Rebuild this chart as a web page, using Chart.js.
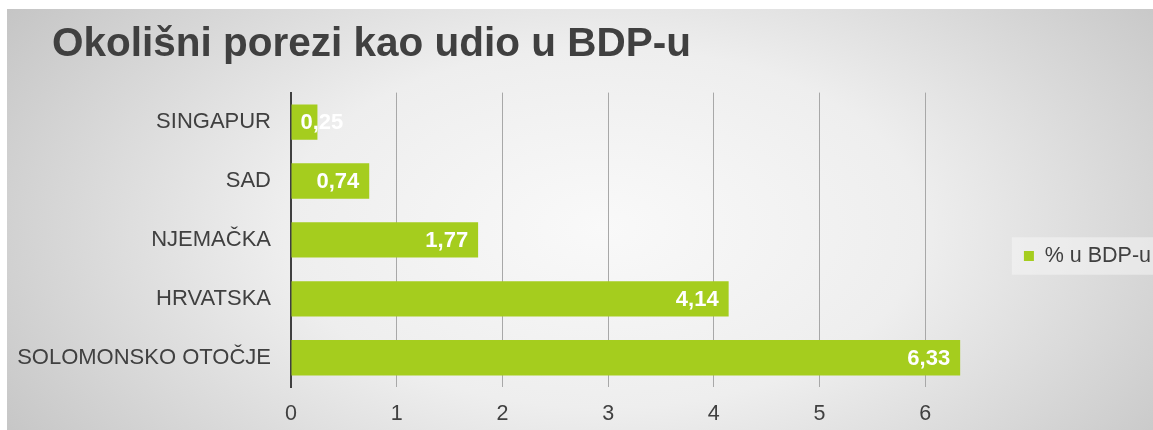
<!DOCTYPE html>
<html>
<head>
<meta charset="utf-8">
<script src="https://cdn.jsdelivr.net/npm/chart.js@4/dist/chart.umd.min.js"></script>
<style>
  html, body { margin: 0; padding: 0; background: #fff; }
  #wrap {
    position: absolute; left: 7px; top: 9px; width: 1146px; height: 421px;
    background: radial-gradient(ellipse 62% 95% at 52% 52%, #f9f9f9 0%, #eeeeee 45%, #c5c5c5 100%);
  }
</style>
</head>
<body>
<div id="wrap"><canvas id="chart" width="1146" height="421"></canvas></div>
<script>
const categories = ["SINGAPUR", "SAD", "NJEMAČKA", "HRVATSKA", "SOLOMONSKO OTOČJE"];
const values = [0.25, 0.74, 1.77, 4.14, 6.33];
const seriesName = "% u BDP-u";
const xTicks = [0, 1, 2, 3, 4, 5, 6];

const green = "#a5cd1e";
const textColor = "#404040";
const font = "'Liberation Sans', Arial, sans-serif";

// move the title right without moving the axis labels, nudge the legend right
const layoutShift = {
    id: "layoutShift",
    afterLayout(chart) {
        if (chart.titleBlock) chart.titleBlock.left = 45;
        const lg = chart.legend;
        if (lg) {
            lg.left += 8;
            lg.right += 8;
            (lg.legendHitBoxes || []).forEach(h => { h.left += 8; });
        }
    }
};

// legend backdrop (light box behind the legend item)
const legendBox = {
    id: "legendBox",
    beforeDraw(chart) {
        const hb = chart.legend && chart.legend.legendHitBoxes && chart.legend.legendHitBoxes[0];
        if (!hb) return;
        const ctx = chart.ctx;
        const x0 = hb.left - 20;
        ctx.save();
        ctx.fillStyle = "rgba(245,245,245,0.55)";
        ctx.fillRect(x0, hb.top - 8, chart.width - x0, hb.height + 16);
        ctx.restore();
    }
};

// value labels, white, inside the bar end
const valueLabels = {
    id: "valueLabels",
    afterDatasetsDraw(chart) {
        const ctx = chart.ctx;
        const meta = chart.getDatasetMeta(0);
        ctx.save();
        ctx.font = "bold 22px " + font;
        ctx.fillStyle = "#ffffff";
        ctx.textBaseline = "middle";
        meta.data.forEach((bar, i) => {
            const txt = values[i].toFixed(2).replace(".", ",");
            const w = ctx.measureText(txt).width;
            let x = bar.x - 10 - w;
            if (x < bar.base + 9) x = bar.base + 9;
            ctx.fillText(txt, x, bar.y + 1);
        });
        ctx.restore();
    }
};

new Chart(document.getElementById("chart"), {
    type: "bar",
    data: {
        labels: categories,
        datasets: [{
            label: seriesName,
            data: values,
            backgroundColor: green,
            borderWidth: 0,
            barPercentage: 0.6,
            categoryPercentage: 1
        }]
    },
    options: {
        indexAxis: "y",
        responsive: false,
        animation: false,
        layout: { padding: { left: 8, right: 0, top: 0, bottom: -11 } },
        plugins: {
            title: {
                display: true,
                text: "Okolišni porezi kao udio u BDP-u",
                align: "start",
                color: textColor,
                font: { family: font, size: 40.5, weight: "bold" },
                padding: { top: 12, bottom: 23 }
            },
            legend: {
                position: "right",
                title: { display: true, text: " ", font: { size: 10 }, padding: 25 },
                labels: {
                    color: textColor,
                    font: { family: font, size: 21.5 },
                    boxWidth: 10,
                    boxHeight: 10,
                    padding: 5
                }
            },
            tooltip: { enabled: false }
        },
        scales: {
            x: {
                min: 0,
                max: 6.81,
                afterBuildTicks(scale) {
                    scale.ticks = xTicks.map(v => ({ value: v }));
                },
                grid: { color: "#a8a8a8", lineWidth: 1, drawTicks: false },
                border: { display: false },
                ticks: {
                    color: textColor,
                    font: { family: font, size: 21.5 },
                    padding: 14
                }
            },
            y: {
                afterFit(scale) { scale.width = 276; },
                grid: { display: false, drawTicks: false },
                border: { display: true, color: "#404040", width: 2 },
                ticks: {
                    color: textColor,
                    font: { family: font, size: 22 },
                    padding: 20
                }
            }
        }
    },
    plugins: [layoutShift, legendBox, valueLabels]
});
</script>
</body>
</html>
